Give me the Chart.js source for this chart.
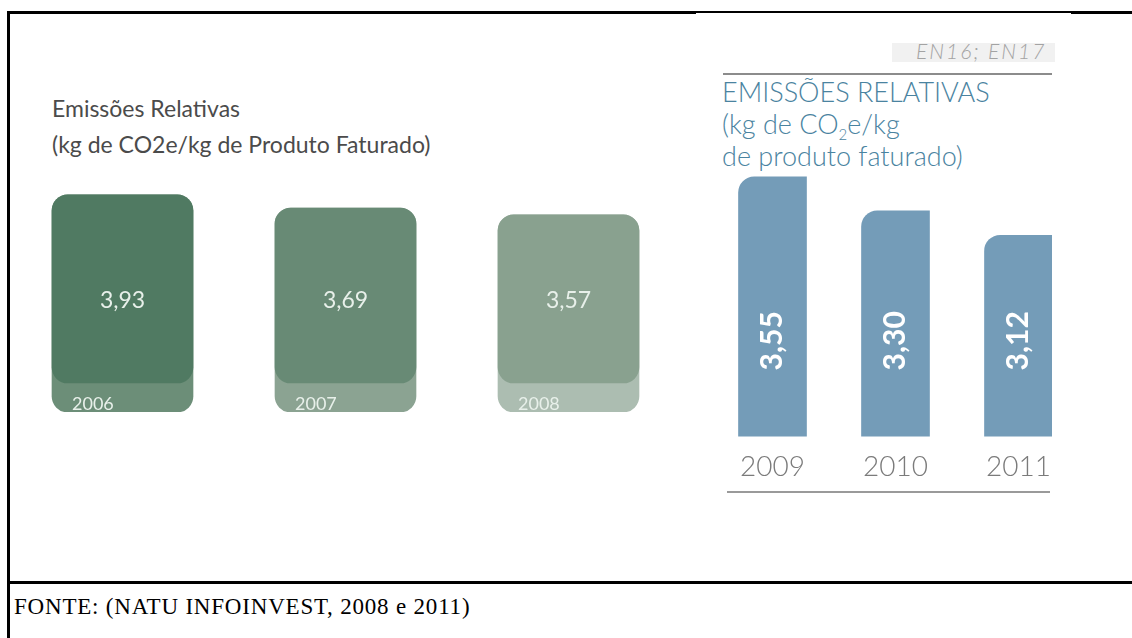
<!DOCTYPE html>
<html lang="pt">

<head>
  <meta charset="UTF-8" />
  <title>Emissões Relativas</title>
  <script src="https://cdn.jsdelivr.net/npm/chart.js"></script>
  <style>
    body { margin: 0; background: #fff; }
    #quadro { position: relative; width: 1132px; height: 638px; overflow: hidden; background: #fff; }
    .linha { position: absolute; background: #000; }
    .txt { position: absolute; white-space: nowrap; }
    #tituloEsq { left: 52px; top: 90px; font: 23px Lato, sans-serif; color: #4b4b4b; line-height: 36px; }
    #en { left: 892px; top: 43px; width: 163px; height: 19px; background: #f1f1f1; }
    #enTxt { left: 916px; top: 38px; font: italic 300 21px Lato, sans-serif; color: #a3a3a3; letter-spacing: 2px; }
    #tituloDir { left: 722px; top: 76px; font: 300 27px Lato, sans-serif; color: #4a83a0; line-height: 32px; }
    #fonte { left: 14px; top: 594px; font: 23px "Liberation Serif", "Times New Roman", serif; color: #000; letter-spacing: 0.8px; }
    #boxEsq { position: absolute; left: 11px; top: 180px; width: 669px; height: 232px; }
    #clipDir { position: absolute; left: 711px; top: 170px; width: 341px; height: 320px; overflow: hidden; }
    #boxDir { position: relative; width: 369px; height: 320px; }
  </style>
</head>

<body>
  <div id="quadro">
    <!-- moldura -->
    <div class="linha" style="left:7px;top:11px;width:3px;height:627px"></div>
    <div class="linha" style="left:7px;top:11px;width:689px;height:3px"></div>
    <div class="linha" style="left:696px;top:11px;width:375px;height:2px"></div>
    <div class="linha" style="left:1071px;top:11px;width:61px;height:3px"></div>
    <div class="linha" style="left:7px;top:581px;width:1125px;height:3px"></div>

    <div class="txt" id="tituloEsq">Emissões Relativas<br>(kg de CO2e/kg de Produto Faturado)</div>

    <div class="txt" id="en"></div>
    <div class="txt" id="enTxt">EN16; EN17</div>
    <div class="linha" style="left:723px;top:73px;width:329px;height:2px;background:#8c8c8c"></div>
    <div class="txt" id="tituloDir">EMISSÕES RELATIVAS<br>(kg de CO<sub style="font-size:15px;line-height:0">2</sub>e/kg<br>de produto faturado)</div>
    <div class="linha" style="left:727px;top:491px;width:323px;height:2px;background:#9a9a9a"></div>

    <div id="boxEsq"><canvas id="graficoEsq"></canvas></div>
    <div id="clipDir"><div id="boxDir"><canvas id="graficoDir"></canvas></div></div>

    <div class="txt" id="fonte">FONTE: (NATU INFOINVEST, 2008 e 2011)</div>
  </div>

  <script>
    // dados 2006-2008 (quadrados verdes)
    const anosAntigos = ["2006", "2007", "2008"];
    const emissoesAntigas = [3.93, 3.69, 3.57];
    // dados 2009-2011 (barras azuis)
    const anosNovos = ["2009", "2010", "2011"];
    const emissoesNovas = [3.55, 3.30, 3.12];

    // cores
    const verdeEscuro = ["rgb(80, 122, 98)", "rgb(104, 138, 117)", "rgb(137, 161, 143)"];
    const verdeClaro = ["rgb(108, 142, 120)", "rgb(139, 163, 146)", "rgb(172, 189, 177)"];
    const azul = "rgb(116, 156, 184)";
    const faixaAno = 0.525; // altura da faixa do ano, em kg

    function virgula(v) {
      return v.toFixed(2).replace(".", ",");
    }

    // rótulos dentro dos quadrados verdes
    const rotulosEsq = {
      id: "rotulosEsq",
      afterDatasetsDraw(chart) {
        const ctx = chart.ctx;
        const meta = chart.getDatasetMeta(1);
        ctx.save();
        meta.data.forEach((el, i) => {
          ctx.fillStyle = "#e8f0ea";
          ctx.font = "23px Lato, sans-serif";
          ctx.textAlign = "center";
          ctx.textBaseline = "middle";
          ctx.fillText(virgula(emissoesAntigas[i]), el.x, chart.chartArea.bottom - 111);
          ctx.font = "18px Lato, sans-serif";
          ctx.textAlign = "left";
          ctx.fillText(anosAntigos[i], el.x - el.width / 2 + 20, chart.chartArea.bottom - 8);
        });
        ctx.restore();
      },
    };

    // rótulos verticais nas barras azuis
    const rotulosDir = {
      id: "rotulosDir",
      afterDatasetsDraw(chart) {
        const ctx = chart.ctx;
        const meta = chart.getDatasetMeta(0);
        const y0 = chart.chartArea.bottom - 66;
        ctx.save();
        ctx.fillStyle = "#ffffff";
        ctx.font = "bold 30px Lato, sans-serif";
        ctx.textAlign = "left";
        ctx.textBaseline = "middle";
        meta.data.forEach((el, i) => {
          ctx.save();
          ctx.translate(el.x, y0);
          ctx.rotate(-Math.PI / 2);
          ctx.fillText(virgula(emissoesNovas[i]), 0, 0);
          ctx.restore();
        });
        ctx.restore();
      },
    };

    new Chart(document.getElementById("graficoEsq"), {
      type: "bar",
      data: {
        labels: anosAntigos,
        datasets: [
          {
            label: "Emissões (faixa)",
            data: emissoesAntigas,
            backgroundColor: verdeClaro,
            borderWidth: 0,
            borderRadius: 16,
            borderSkipped: false,
            barThickness: 141,
            grouped: false,
            order: 2,
          },
          {
            label: "Emissões Relativas",
            data: emissoesAntigas.map((v) => [faixaAno, v]),
            backgroundColor: verdeEscuro,
            borderWidth: 0,
            borderRadius: 16,
            borderSkipped: false,
            barThickness: 141,
            grouped: false,
            order: 1,
          },
        ],
      },
      options: {
        responsive: true,
        maintainAspectRatio: false,
        animation: false,
        layout: { padding: 0 },
        plugins: { legend: { display: false }, tooltip: { enabled: false } },
        scales: {
          x: { display: false, offset: true },
          y: { display: false, min: 0, max: 4.2 },
        },
      },
      plugins: [rotulosEsq],
    });

    new Chart(document.getElementById("graficoDir"), {
      type: "bar",
      data: {
        labels: anosNovos,
        datasets: [
          {
            label: "Emissões Relativas",
            data: emissoesNovas,
            backgroundColor: azul,
            borderWidth: 0,
            borderRadius: { topLeft: 16, topRight: 0, bottomLeft: 0, bottomRight: 0 },
            borderSkipped: false,
            barThickness: 68,
          },
        ],
      },
      options: {
        responsive: true,
        maintainAspectRatio: false,
        animation: false,
        layout: { padding: 0 },
        plugins: { legend: { display: false }, tooltip: { enabled: false } },
        scales: {
          x: {
            offset: true,
            border: { display: false },
            grid: { display: false },
            ticks: {
              padding: 6,
              color: "#7b7b7b",
              font: { family: "Lato, sans-serif", size: 28, weight: 300 },
            },
          },
          y: { display: false, min: 1.64, max: 3.6 },
        },
      },
      plugins: [rotulosDir],
    });
  </script>
</body>

</html>
